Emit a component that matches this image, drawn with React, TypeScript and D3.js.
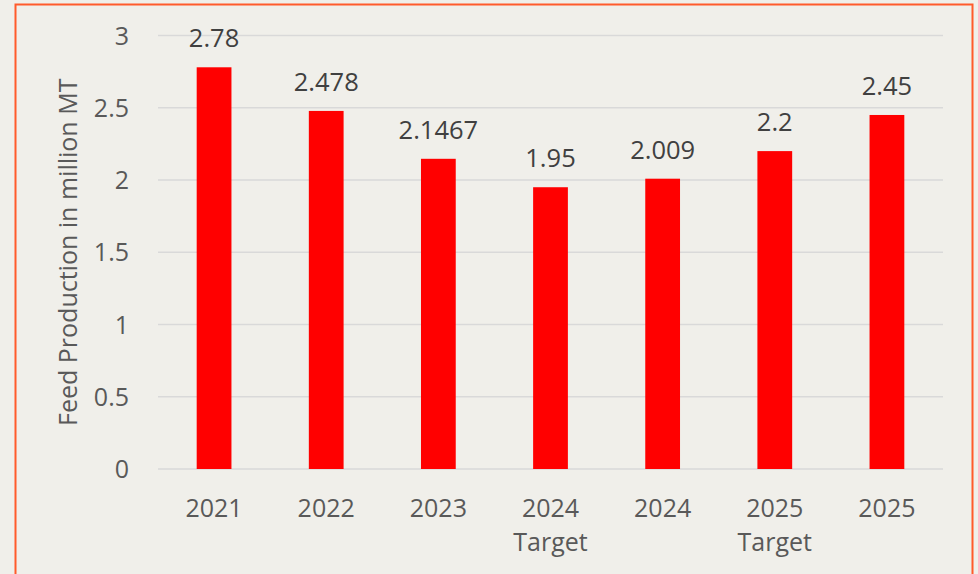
import React, { useEffect, useRef } from 'react';
import * as d3 from 'd3';

const categories = ['2021', '2022', '2023', '2024\nTarget', '2024', '2025\nTarget', '2025'];
const values = [2.78, 2.478, 2.1467, 1.95, 2.009, 2.2, 2.45];
const valueLabels = ['2.78', '2.478', '2.1467', '1.95', '2.009', '2.2', '2.45'];
const yTicks = [0, 0.5, 1, 1.5, 2, 2.5, 3];
const yTitle = 'Feed Production in million MT';

const W = 978;
const H = 574;
const FONT = '"Open Sans", sans-serif';
const TEXT = '#595959';

const App = () => {
  const svgRef = useRef<SVGSVGElement>(null);

  useEffect(() => {
    if (!svgRef.current) return;
    const svg = d3.select(svgRef.current);
    svg.selectAll('*').remove();

    const left = 158, right = 943, top = 35.5, bottom = 469;

    svg.append('rect').attr('width', W).attr('height', H).attr('fill', '#f0efea');

    // frame
    svg.append('rect')
      .attr('x', 15.5).attr('y', 4.5)
      .attr('width', 957).attr('height', H + 20)
      .attr('fill', 'none')
      .attr('stroke', '#ff5b2b')
      .attr('stroke-width', 2);

    const x = d3.scaleBand().domain(categories).range([left, right]).paddingInner(0.69).paddingOuter(0.345);
    const y = d3.scaleLinear().domain([0, 3]).range([bottom, top]);

    // gridlines
    svg.append('g').selectAll('line')
      .data(yTicks)
      .enter()
      .append('line')
      .attr('x1', left).attr('x2', right)
      .attr('y1', d => y(d)).attr('y2', d => y(d))
      .attr('stroke', '#d9d9d9')
      .attr('stroke-width', 1.5);

    // y tick labels
    svg.append('g').selectAll('text')
      .data(yTicks)
      .enter()
      .append('text')
      .attr('x', 129)
      .attr('y', d => y(d))
      .attr('dy', '0.36em')
      .attr('text-anchor', 'end')
      .attr('font-family', FONT)
      .attr('font-size', 25)
      .attr('fill', TEXT)
      .text(d => String(d));

    // bars
    svg.append('g').selectAll('rect')
      .data(values)
      .enter()
      .append('rect')
      .attr('x', (d, i) => x(categories[i])!)
      .attr('width', x.bandwidth())
      .attr('y', d => y(d))
      .attr('height', d => y(0) - y(d))
      .attr('fill', '#ff0000');

    // value labels
    svg.append('g').selectAll('text')
      .data(values)
      .enter()
      .append('text')
      .attr('x', (d, i) => x(categories[i])! + x.bandwidth() / 2)
      .attr('y', d => y(d) - 20)
      .attr('text-anchor', 'middle')
      .attr('font-family', FONT)
      .attr('font-size', 25.5)
      .attr('fill', '#404040')
      .text((d, i) => valueLabels[i]);

    // category labels
    const cat = svg.append('g').selectAll('text')
      .data(categories)
      .enter()
      .append('text')
      .attr('text-anchor', 'middle')
      .attr('font-family', FONT)
      .attr('font-size', 25)
      .attr('fill', TEXT);
    cat.each(function (d) {
      const t = d3.select(this);
      const cx = x(d)! + x.bandwidth() / 2;
      d.split('\n').forEach((line, j) => {
        t.append('tspan').attr('x', cx).attr('y', 517 + j * 34).text(line);
      });
    });

    // y axis title
    svg.append('text')
      .attr('transform', `translate(77, ${(top + bottom) / 2}) rotate(-90)`)
      .attr('text-anchor', 'middle')
      .attr('font-family', FONT)
      .attr('font-size', 25)
      .attr('fill', TEXT)
      .text(yTitle);
  }, []);

  return (
    <div style={{ position: 'fixed', left: 0, top: 0, width: W, height: H }}>
      <svg ref={svgRef} width={W} height={H} style={{ display: 'block' }} />
    </div>
  );
};

export default App;
